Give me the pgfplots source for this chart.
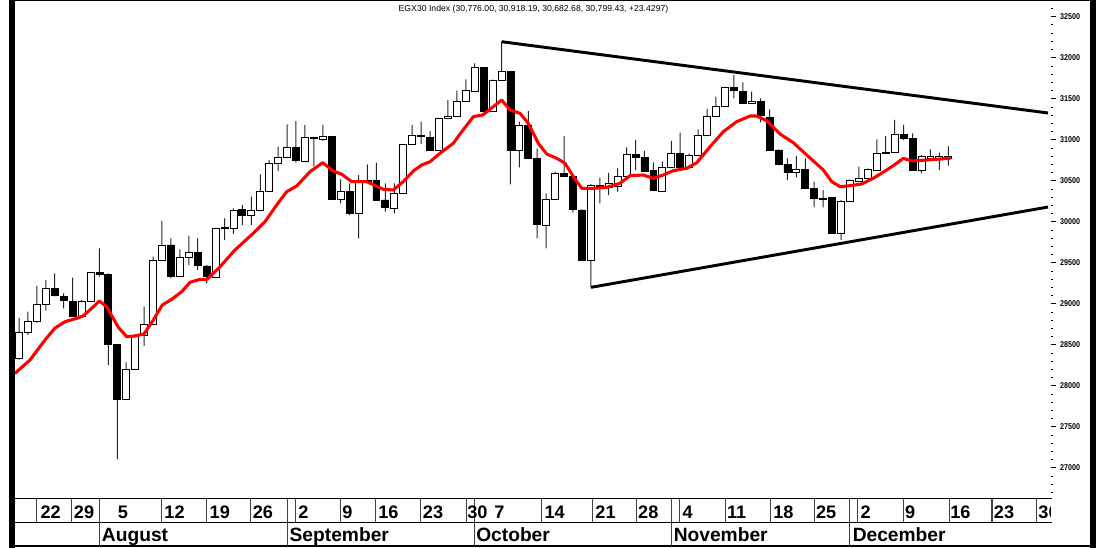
\documentclass[border=0pt]{standalone}
\usepackage{fontspec}
\setmainfont{Liberation Sans}
\newfontfamily\ynum[FakeStretch=0.85]{Liberation Sans}
\usepackage{pgfplots}
\usepackage{pgfplotstable}
\pgfplotsset{compat=1.18}

\pgfplotstableread{
i O H L C
0 28336 28831 28320 28648
1 28648 28904 28620 28782
2 28782 29221 28770 28994
3 28994 29290 28916 29189
4 29189 29372 29090 29099
5 29095 29128 28945 29038
6 29034 29318 28845 28851
7 28851 29046 28843 29034
8 29034 29390 29030 29384
9 29384 29677 29331 29360
10 29360 29370 28254 28506
11 28506 28510 27108 27840
12 27836 28287 27830 28205
13 28205 28630 28200 28620
14 28620 28965 28486 28750
15 28750 29574 28740 29534
16 29534 30013 29530 29717
17 29717 29799 29311 29339
18 29331 29665 29325 29567
19 29567 29830 29473 29623
20 29628 29799 29412 29473
21 29461 29473 29250 29331
22 29323 29925 29320 29921
23 29921 30042 29778 29928
24 29921 30164 29851 30144
25 30152 30205 29961 30083
26 30074 30306 29961 30135
27 30135 30579 30130 30375
28 30367 30753 30360 30713
29 30713 30915 30619 30781
30 30781 31188 30775 30908
31 30908 31228 30720 30745
32 30741 31180 30735 31030
33 31030 31035 30671 31018
34 31009 31180 30985 31037
35 31037 31040 30275 30278
36 30274 30518 30225 30375
37 30375 30469 30083 30103
38 30103 30570 29799 30501
39 30497 30701 30490 30509
40 30501 30720 30260 30266
41 30266 30469 30123 30172
42 30164 30469 30103 30347
43 30347 30950 30340 30945
44 30945 31180 30940 31049
45 31049 31220 30948 31037
46 31030 31107 30870 30875
47 30875 31265 30870 31261
48 31257 31484 31250 31289
49 31289 31598 31280 31472
50 31472 31737 31465 31598
51 31594 31932 31590 31878
52 31878 31885 31340 31342
53 31342 31732 31340 31728
54 31728 32195 31720 31829
55 31829 31835 30457 30866
56 30866 31220 30664 31180
57 31180 31350 30770 30774
58 30774 30896 29799 29969
59 29952 30347 29677 30274
60 30274 30611 30270 30591
61 30591 31046 30545 30550
62 30550 30570 30111 30152
63 30144 30152 29530 29534
64 29534 30461 29201 30448
65 30448 30537 30225 30428
66 30424 30595 30326 30473
67 30428 30652 30367 30558
68 30558 30908 30550 30823
69 30823 30997 30631 30786
70 30786 30863 30615 30619
71 30631 30725 30375 30379
72 30375 30732 30370 30664
73 30664 30985 30660 30835
74 30835 31086 30660 30664
75 30664 30835 30660 30806
76 30806 31127 30800 31049
77 31049 31375 31045 31281
78 31281 31525 31275 31403
79 31403 31645 31400 31639
80 31634 31789 31505 31606
81 31594 31700 31440 31444
82 31444 31586 31440 31472
83 31472 31505 31213 31302
84 31269 31371 30870 30875
85 30875 30880 30700 30704
86 30701 30774 30509 30603
87 30598 30802 30542 30640
88 30640 30774 30405 30408
89 30408 30489 30177 30286
90 30286 30387 30177 30274
91 30294 30298 29855 29860
92 29860 30266 29778 30245
93 30245 30518 30240 30501
94 30497 30671 30490 30530
95 30530 30652 30525 30640
96 30631 31005 30625 30835
97 30835 31046 30830 30847
98 30842 31241 30838 31066
99 31066 31180 30997 31018
100 31018 31079 30620 30623
101 30623 30814 30591 30802
102 30774 30884 30770 30802
103 30774 30842 30631 30793
104 30776 30918 30683 30799
}\candles

\pgfplotstableread{
x y
-0.45 28153
1.23 28315
2.91 28559
4.03 28705
5.15 28782
6.46 28823
7.16 28851
8.14 28945
8.99 29034
9.82 28965
11.11 28714
12.05 28599
12.98 28608
13.99 28632
15.03 28803
16.04 28986
17.09 29055
18.21 29148
19.14 29262
20.26 29299
21.07 29299
22.5 29452
24.17 29656
26.22 29860
27.53 30001
28.84 30205
29.96 30367
31.08 30436
32.57 30611
33.99 30720
35.18 30619
36.12 30579
37.24 30489
38.91 30489
40.77 30396
41.89 30387
43.01 30489
44.13 30619
45.07 30692
46.0 30732
47.12 30835
48.61 30957
49.36 31070
50.85 31281
51.9 31302
53.08 31403
54.02 31484
54.95 31363
56.07 31322
57.0 31200
58.12 30957
59.06 30826
60.18 30774
61.11 30713
62.04 30550
62.98 30408
64.28 30408
65.77 30420
67.26 30469
68.38 30562
69.87 30570
70.99 30530
72.11 30570
73.23 30623
74.73 30652
75.85 30720
77.34 30915
78.82 31098
80.32 31220
81.81 31289
82.56 31289
83.68 31232
85.17 31070
86.66 30964
88.16 30814
90.02 30631
90.96 30489
91.89 30428
93.01 30440
94.31 30461
95.61 30530
97.11 30631
98.23 30713
98.97 30774
99.91 30741
101.59 30753
104.2 30774
}\ma

\definecolor{mared}{RGB}{255,0,0}

\begin{document}
\begin{tikzpicture}
\path[use as bounding box] (0,0) rectangle (823.5pt,411pt);
\pgfplotsset{base/.style={scale only axis, width=777pt, height=373.5pt,
  xmin=-0.4477, xmax=115.5, ymin=26633, ymax=32703.5,
  at={(11.25pt,37.5pt)}, anchor=south west}}
% wicks (low to high)
\begin{axis}[base, hide axis, ybar stacked, bar width=0.75pt]
\addplot[draw=none, fill=none] table[x=i, y=L] {\candles};
\addplot[draw=none, fill=black!85] table[x=i, y expr={\thisrow{H}-\thisrow{L}}] {\candles};
\end{axis}
% bodies
\begin{axis}[base, hide axis, ybar stacked, bar width=0.78]
\addplot[draw=none, fill=none] table[x=i, y expr={min(\thisrow{O},\thisrow{C})}] {\candles};
\addplot[draw=black, fill=white, line width=0.6pt] table[x=i, y expr={max(\thisrow{C}-\thisrow{O},0)}] {\candles};
\addplot[draw=black, fill=black, line width=0.6pt] table[x=i, y expr={max(\thisrow{O}-\thisrow{C},0)}] {\candles};
\end{axis}
% moving average, trend lines, y axis
\begin{axis}[base, axis x line=none, axis y line*=right,
  y axis line style={draw=none},
  ytick={27000,27500,28000,28500,29000,29500,30000,30500,31000,31500,32000,32500},
  yticklabels={27000,27500,28000,28500,29000,29500,30000,30500,31000,31500,32000,32500},
  minor ytick={26700,26800,...,32600},
  tick align=outside, major tick length=3.4pt, minor tick length=1.6pt,
  tick style={black, line width=0.6pt},
  yticklabel style={font=\ynum\bfseries\fontsize{6.3}{7}\selectfont, anchor=west, inner sep=0pt, xshift=3.3pt}]
\addplot[mared, line width=2.3pt, line join=round, line cap=round] table[x=x, y=y] {\ma};
\addplot[black, line width=2.2pt] coordinates {(54.02,32195) (115.17,31326)};
\addplot[black, line width=2.2pt] coordinates {(64.02,29201) (115.17,30180)};
\end{axis}

\begin{scope}[shift={(0pt,411pt)}, x=0.75pt, y=-0.75pt]
  \fill[black] (9,0) rectangle (14.5,548);
  \fill[black] (1089.5,0) rectangle (1095.5,548);
  \draw[line width=0.75pt] (9,0.6) -- (1095,0.6);
  \draw[line width=1.6pt] (9,546) -- (1095,546);
  \node[font=\fontsize{6.5}{7.5}\selectfont, inner sep=0pt] at (533.5,9.5)
    {EGX30 Index (30,776.00, 30,918.19, 30,682.68, 30,799.43, +23.4297)};
  \draw[line width=0.75pt] (14,499) -- (1052,499);
  \draw[line width=0.75pt] (14,522.5) -- (1052,522.5);
  \foreach \x in {36.8,71.9,161.3,206.9,250.8,295.7,340.2,375.3,420.9,466.5,541.8,592.7,636.1,679.9,725.8,770.6,814.7,857.8,903.7,949.2,992,1036.4}
    \draw[line width=0.8pt, black!75] (\x,499) -- (\x,522.5);
  \foreach \x in {99.3,287.6,474.2,671.7,849.6}
    \draw[line width=0.8pt, black!75] (\x,499) -- (\x,546);
  \begin{scope}
    \clip (15,499) rectangle (1050,548);
    \foreach \x/\t in {40.3/22,73.7/29,117.5/5,164.2/12,209.4/19,252.5/26,298.1/2,342/9,378.1/16,422.7/23,467/30,494/7,544.3/14,595.2/21,637.9/28,682.3/4,726.8/11,773.1/18,815.8/25,860.3/2,904.8/9,950/16,993.7/23,1038.2/30}
      \node[anchor=base west, inner sep=0pt, font=\fontsize{13.6}{15}\selectfont\bfseries] at (\x,519) {\t};
    \foreach \x/\t in {101.7/August,289.4/September,476/October,673.5/November,852.5/December}
      \node[anchor=base west, inner sep=0pt, font=\fontsize{14.4}{16}\selectfont\bfseries] at (\x,542) {\t};
  \end{scope}
\end{scope}
\end{tikzpicture}
\end{document}
